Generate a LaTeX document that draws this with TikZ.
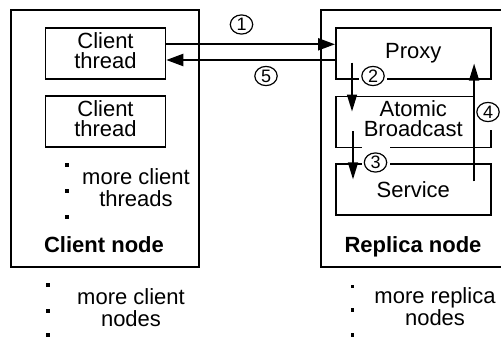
\documentclass[tikz,border=0pt]{standalone}
\usepackage{fontspec}
\setmainfont{Liberation Sans}
\usetikzlibrary{arrows.meta,calc}

\begin{document}
\begin{tikzpicture}[x=0.5pt, y=-0.5pt,
    box/.style={draw, line width=0.8pt, inner sep=0pt, align=center,
      minimum width=60pt, minimum height=25.5pt, font=\fontsize{11}{10}\selectfont},
    lbl/.style={inner sep=0pt, align=center, font=\fontsize{11}{11}\selectfont},
    title/.style={inner sep=0pt, anchor=base, font=\fontsize{11}{11}\selectfont\bfseries},
    num/.style={fill=white, inner sep=0pt, minimum width=14pt, minimum height=17.5pt,
      font=\fontsize{9}{9}\selectfont,
      path picture={\draw[line width=0.6pt] (path picture bounding box.center) ellipse (5.6pt and 4.8pt);}},
    msg/.style={line width=1.1pt, -{Triangle[length=8.5pt,width=6pt]}},
    flow/.style={line width=0.8pt, -{Triangle[length=8.5pt,width=5pt]}}]
         \useasboundingbox (0,0) rectangle (501,337);

         \node[box, minimum width=94pt, minimum height=128.5pt] (cnode) at (105,138.7) {};
         \node[box, minimum width=91pt, minimum height=128.5pt] (rnode) at (412,138.5) {};

         \node[box, text depth=2.9pt] (ct1) at (105.5,53.3) {Client\\thread};
         \node[box, text depth=2.9pt] (ct2) at (105.5,121.3) {Client\\thread};

         \node[box, minimum width=77.5pt] (proxy) at (413.3,53.3) {Proxy};
         \node[box, minimum width=77.5pt, text depth=3pt] (atomic) at (413.3,121.8) {Atomic\\Broadcast};
         \node[box, minimum width=77.5pt] (service) at (413.3,189.7) {Service};

         \node[lbl] (ctmore) at (136,188.1) {more client\\threads};
         \node[title] (cname) at (104,252) {Client node};
         \node[title] (rname) at (413,252) {Replica node};
         \node[lbl] (cmore) at (131,308.1) {more client\\nodes};
         \node[lbl] (rmore) at (435,307.1) {more replica\\nodes};

         \fill (65.3,163.3) rectangle ++(3.5,3.5);
         \fill (65.3,189.3) rectangle ++(3.5,3.5);
         \fill (65.3,215.3) rectangle ++(3.5,3.5);
         \fill (46.3,283.3) rectangle ++(3.5,3.5);
         \fill (46.3,309.3) rectangle ++(3.5,3.5);
         \fill (46.3,333.3) rectangle ++(3.5,3.5);
         \fill (350.8,284.8) rectangle ++(3.5,3.5);
         \fill (350.8,308.3) rectangle ++(3.5,3.5);
         \fill (350.8,333.3) rectangle ++(3.5,3.5);

         \node[num] (n1) at (241.5,24.5) {1};
         \node[num] (n5) at (266,76) {5};
         \node[num, minimum height=12pt] (n2) at (373,76) {2};
         \node[num] (n3) at (375.5,162.5) {3};
         \node[num] (n4) at (488,112) {4};

         \draw[msg] ($(ct1.east)+(0,-9)$) -- ($(proxy.west)+(0,-9)$);
         \draw[msg] ($(proxy.west)+(0,6.7)$) -- ($(ct1.east)+(0,6.7)$);

         \draw[flow] ($(proxy.south west)+(17,-17)$) -- ($(atomic.north west)+(17,16)$);
         \draw[flow] ($(atomic.south west)+(18,-17)$) -- ($(service.north west)+(18,16)$);
         \draw[flow] ($(service.north east)+(-17.5,18)$) -- ($(proxy.south east)+(-17.5,-16)$);
      \end{tikzpicture}
\end{document}
